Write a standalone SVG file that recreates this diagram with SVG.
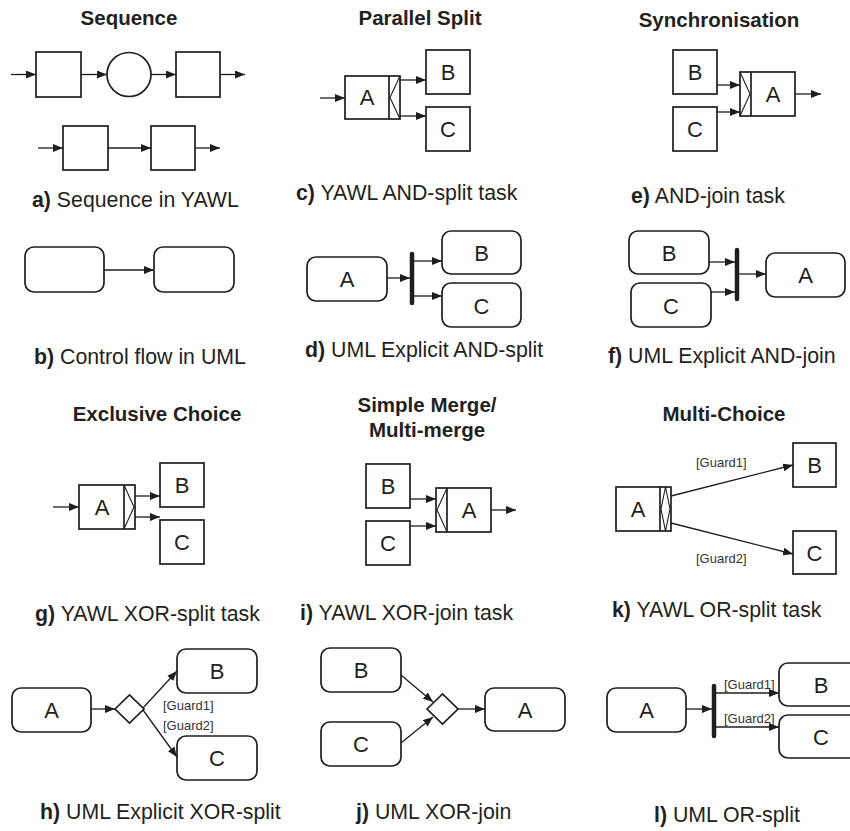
<svg xmlns="http://www.w3.org/2000/svg" width="850" height="831" viewBox="0 0 850 831">
<defs>
<marker id="ah" markerUnits="userSpaceOnUse" markerWidth="10" markerHeight="8" refX="10" refY="4" orient="auto">
<path d="M0,0 L10,4 L0,8 z" fill="#1e1e1e"/>
</marker>
<style>
.box{fill:#fff;stroke:#1e1e1e;stroke-width:1.7}
.thin{fill:none;stroke:#1e1e1e;stroke-width:1.1}
.arr{fill:none;stroke:#1e1e1e;stroke-width:1.3;marker-end:url(#ah)}
.bar{stroke:#1e1e1e;stroke-width:4.5;stroke-linecap:round}
.title{font-family:"Liberation Sans",Arial,sans-serif;font-weight:bold;font-size:20.5px;fill:#231f20;text-anchor:middle}
.cap{font-family:"Liberation Sans",Arial,sans-serif;font-size:21.3px;fill:#231f20}
.cap tspan.b{font-weight:bold}
.lbl{font-family:"Liberation Sans",Arial,sans-serif;font-size:22px;fill:#231f20;text-anchor:middle}
.g{font-family:"Liberation Sans",Arial,sans-serif;font-size:13px;fill:#333}
</style>
</defs>

<!-- Titles and captions -->
<g id="texts">
<text class="title" x="129" y="25">Sequence</text>
<text class="title" x="420" y="25">Parallel Split</text>
<text class="title" x="719" y="27">Synchronisation</text>
<text class="title" x="157" y="421">Exclusive Choice</text>
<text class="title" x="427" y="412">Simple Merge/</text>
<text class="title" x="427" y="437">Multi-merge</text>
<text class="title" x="724" y="421">Multi-Choice</text>
<text class="cap" x="32" y="207"><tspan class="b">a)</tspan> Sequence in YAWL</text>
<text class="cap" x="34" y="364"><tspan class="b">b)</tspan> Control flow in UML</text>
<text class="cap" x="296" y="200"><tspan class="b">c)</tspan> YAWL AND-split task</text>
<text class="cap" x="305" y="357"><tspan class="b">d)</tspan> UML Explicit AND-split</text>
<text class="cap" x="631" y="203"><tspan class="b">e)</tspan> AND-join task</text>
<text class="cap" x="608" y="363"><tspan class="b">f)</tspan> UML Explicit AND-join</text>
<text class="cap" x="35" y="621"><tspan class="b">g)</tspan> YAWL XOR-split task</text>
<text class="cap" x="40" y="819"><tspan class="b">h)</tspan> UML Explicit XOR-split</text>
<text class="cap" x="300" y="620"><tspan class="b">i)</tspan> YAWL XOR-join task</text>
<text class="cap" x="356" y="819"><tspan class="b">j)</tspan> UML XOR-join</text>
<text class="cap" x="612" y="617"><tspan class="b">k)</tspan> YAWL OR-split task</text>
<text class="cap" x="654" y="822"><tspan class="b">l)</tspan> UML OR-split</text>
</g>

<!-- a) Sequence in YAWL -->
<g id="a-task1"><rect class="box" x="36" y="52" width="45" height="45"/></g>
<g id="a-cond"><circle class="box" cx="129" cy="74.5" r="22"/></g>
<g id="a-task2"><rect class="box" x="176" y="52" width="44" height="45"/></g>
<g id="a-task3"><rect class="box" x="63" y="126" width="45" height="44"/></g>
<g id="a-task4"><rect class="box" x="151" y="126" width="44" height="44"/></g>

<!-- b) UML control flow -->
<g id="b-act1"><rect class="box" x="25" y="247" width="79" height="45" rx="9"/></g>
<g id="b-act2"><rect class="box" x="154" y="247" width="80" height="45" rx="9"/></g>

<!-- c) AND-split -->
<g id="c-A"><rect class="box" x="345" y="76" width="55" height="43"/><line class="box" x1="389" y1="76" x2="389" y2="119"/><path class="thin" d="M400,76 L390,97.5 L400,119"/><text class="lbl" x="367" y="105">A</text></g>
<g id="c-B"><rect class="box" x="426" y="50" width="44" height="44"/><text class="lbl" x="448" y="80">B</text></g>
<g id="c-C"><rect class="box" x="426" y="107" width="44" height="44"/><text class="lbl" x="448" y="137">C</text></g>

<!-- d) UML AND-split -->
<g id="d-A"><rect class="box" x="307" y="257" width="80" height="44" rx="9"/><text class="lbl" x="347" y="287">A</text></g>
<g id="d-bar"><line class="bar" x1="412" y1="254" x2="412" y2="303"/></g>
<g id="d-B"><rect class="box" x="442" y="231" width="79" height="43" rx="9"/><text class="lbl" x="481.5" y="261">B</text></g>
<g id="d-C"><rect class="box" x="442" y="283" width="79" height="44" rx="9"/><text class="lbl" x="481.5" y="314">C</text></g>

<!-- e) AND-join -->
<g id="e-B"><rect class="box" x="673" y="50" width="44" height="44"/><text class="lbl" x="695" y="80">B</text></g>
<g id="e-C"><rect class="box" x="673" y="107" width="44" height="44"/><text class="lbl" x="695" y="137">C</text></g>
<g id="e-A"><rect class="box" x="740" y="72" width="55" height="44"/><line class="box" x1="751" y1="72" x2="751" y2="116"/><path class="thin" d="M740,72 L750,94 L740,116"/><text class="lbl" x="773" y="102">A</text></g>

<!-- f) UML AND-join -->
<g id="f-B"><rect class="box" x="629" y="231" width="80" height="43" rx="9"/><text class="lbl" x="669" y="261">B</text></g>
<g id="f-C"><rect class="box" x="631" y="283" width="80" height="44" rx="9"/><text class="lbl" x="671" y="314">C</text></g>
<g id="f-bar"><line class="bar" x1="737" y1="250" x2="737" y2="299"/></g>
<g id="f-A"><rect class="box" x="766" y="253" width="79" height="44" rx="9"/><text class="lbl" x="805.5" y="283">A</text></g>

<!-- g) XOR-split -->
<g id="g-A"><rect class="box" x="79" y="485" width="56" height="44"/><line class="box" x1="124" y1="485" x2="124" y2="529"/><path class="thin" d="M124,485 L134,507 L124,529"/><text class="lbl" x="102" y="515">A</text></g>
<g id="g-B"><rect class="box" x="160" y="463" width="44" height="44"/><text class="lbl" x="182" y="493">B</text></g>
<g id="g-C"><rect class="box" x="160" y="520" width="44" height="44"/><text class="lbl" x="182" y="550">C</text></g>

<!-- i) XOR-join -->
<g id="i-B"><rect class="box" x="366" y="464" width="44" height="44"/><text class="lbl" x="388" y="494">B</text></g>
<g id="i-C"><rect class="box" x="366" y="521" width="44" height="44"/><text class="lbl" x="388" y="551">C</text></g>
<g id="i-A"><rect class="box" x="436" y="488" width="55" height="44"/><line class="box" x1="447" y1="488" x2="447" y2="532"/><path class="thin" d="M447,488 L437,510 L447,532"/><text class="lbl" x="469" y="518">A</text></g>

<!-- k) OR-split -->
<g id="k-A"><rect class="box" x="616" y="487" width="55" height="44"/><line class="box" x1="660" y1="487" x2="660" y2="531"/><path class="thin" d="M665.5,487 L661,509 L665.5,531 L670,509 z"/><text class="lbl" x="638" y="517">A</text></g>
<g id="k-B"><rect class="box" x="793" y="443" width="43" height="44"/><text class="lbl" x="814.5" y="473">B</text></g>
<g id="k-C"><rect class="box" x="793" y="531" width="43" height="43"/><text class="lbl" x="814.5" y="561">C</text></g>

<!-- h) UML XOR-split -->
<g id="h-A"><rect class="box" x="12" y="688" width="79" height="44" rx="9"/><text class="lbl" x="51.5" y="718">A</text></g>
<g id="h-dec"><path class="box" d="M115,709 L129.5,695 L144,709 L129.5,723 z"/></g>
<g id="h-B"><rect class="box" x="177" y="649" width="80" height="44" rx="9"/><text class="lbl" x="217" y="679">B</text></g>
<g id="h-C"><rect class="box" x="177" y="736" width="80" height="44" rx="9"/><text class="lbl" x="217" y="766">C</text></g>

<!-- j) UML XOR-join -->
<g id="j-B"><rect class="box" x="321" y="648" width="80" height="44" rx="9"/><text class="lbl" x="361" y="678">B</text></g>
<g id="j-C"><rect class="box" x="321" y="722" width="80" height="44" rx="9"/><text class="lbl" x="361" y="752">C</text></g>
<g id="j-dec"><path class="box" d="M427,709 L442.5,694 L458,709 L442.5,724 z"/></g>
<g id="j-A"><rect class="box" x="485" y="688" width="80" height="43" rx="9"/><text class="lbl" x="525" y="718">A</text></g>

<!-- l) UML OR-split -->
<g id="l-A"><rect class="box" x="607" y="688" width="79" height="44" rx="9"/><text class="lbl" x="646.5" y="718">A</text></g>
<g id="l-bar"><line class="bar" x1="714" y1="686" x2="714" y2="736"/></g>
<g id="l-B"><rect class="box" x="779" y="663" width="90" height="43" rx="9"/><text class="lbl" x="821" y="693">B</text></g>
<g id="l-C"><rect class="box" x="779" y="715" width="90" height="43" rx="9"/><text class="lbl" x="821" y="745">C</text></g>

<!-- guard labels -->
<g id="guards">
<text class="g" x="696" y="467">[Guard1]</text>
<text class="g" x="696" y="563">[Guard2]</text>
<text class="g" x="163" y="710">[Guard1]</text>
<text class="g" x="163" y="730">[Guard2]</text>
<text class="g" x="724" y="689">[Guard1]</text>
<text class="g" x="724" y="723">[Guard2]</text>
</g>

<!-- connectors -->
<g id="connectors">
<line class="arr" x1="11" y1="74.5" x2="36" y2="74.5"/>
<line class="arr" x1="81" y1="74.5" x2="107" y2="74.5"/>
<line class="arr" x1="151" y1="74.5" x2="176" y2="74.5"/>
<line class="arr" x1="220" y1="74.5" x2="245" y2="74.5"/>
<line class="arr" x1="38" y1="148" x2="63" y2="148"/>
<line class="arr" x1="108" y1="148" x2="151" y2="148"/>
<line class="arr" x1="195" y1="148" x2="220" y2="148"/>

<line class="arr" x1="104" y1="270" x2="154" y2="270"/>

<line class="arr" x1="320" y1="98" x2="345" y2="98"/>
<line class="arr" x1="400" y1="80" x2="426" y2="80"/>
<line class="arr" x1="400" y1="116" x2="426" y2="116"/>

<line class="arr" x1="387" y1="278" x2="410" y2="278"/>
<line class="arr" x1="414" y1="261" x2="442" y2="261"/>
<line class="arr" x1="414" y1="296" x2="442" y2="296"/>

<line class="arr" x1="717" y1="85" x2="740" y2="85"/>
<line class="arr" x1="717" y1="112" x2="740" y2="112"/>
<line class="arr" x1="795" y1="94" x2="821" y2="94"/>

<line class="arr" x1="709" y1="262" x2="735" y2="262"/>
<line class="arr" x1="711" y1="292" x2="735" y2="292"/>
<line class="arr" x1="739" y1="274" x2="766" y2="274"/>

<line class="arr" x1="53" y1="507" x2="79" y2="507"/>
<line class="arr" x1="135" y1="496" x2="160" y2="496"/>
<line class="arr" x1="135" y1="517" x2="160" y2="517"/>

<line class="arr" x1="410" y1="499" x2="436" y2="499"/>
<line class="arr" x1="410" y1="526" x2="436" y2="526"/>
<line class="arr" x1="491" y1="510" x2="516" y2="510"/>

<line class="arr" x1="671" y1="496" x2="793" y2="465"/>
<line class="arr" x1="671" y1="523" x2="793" y2="554"/>

<line class="arr" x1="91" y1="709" x2="115" y2="709"/>
<line class="arr" x1="143" y1="708" x2="177" y2="671"/>
<line class="arr" x1="143" y1="710" x2="177" y2="757"/>

<line class="arr" x1="401" y1="675" x2="433" y2="702"/>
<line class="arr" x1="401" y1="743" x2="433" y2="717"/>
<line class="arr" x1="458" y1="709" x2="485" y2="709"/>

<line class="arr" x1="686" y1="709" x2="712" y2="709"/>
<line class="arr" x1="716" y1="693" x2="779" y2="693"/>
<line class="arr" x1="716" y1="727" x2="779" y2="727"/>
</g>
</svg>
